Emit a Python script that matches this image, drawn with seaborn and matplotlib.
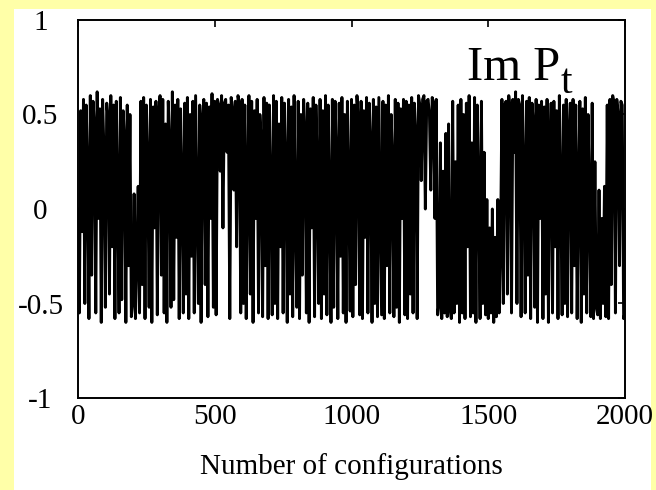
import matplotlib
matplotlib.use("Agg")
import matplotlib.pyplot as plt
from matplotlib.patches import Rectangle
import numpy as np
import pandas as pd
import seaborn as sns

# Monte Carlo history of the imaginary part of the Polyakov loop,
# one value every 5 configurations (0 ... 2000).
step = 5
im_p = [
    # 0 - 95
    0.00, -0.55, 0.52, -0.12, 0.58, -0.50, 0.55, 0.20, -0.58, 0.60,
    -0.35, 0.57, 0.45, -0.55, 0.62, -0.05, 0.53, -0.60, 0.58, 0.30,
    # 100 - 195
    -0.52, 0.56, 0.48, -0.45, 0.60, -0.20, 0.55, -0.58, 0.57, 0.10,
    -0.55, 0.59, -0.48, 0.52, 0.38, -0.60, 0.55, -0.30, 0.50, -0.57,
    # 200 - 295
    -0.50, 0.08, -0.58, -0.25, 0.12, -0.55, 0.57, -0.40, 0.59, -0.58,
    0.55, 0.25, -0.52, 0.58, -0.60, 0.54, -0.10, 0.57, -0.56, 0.50,
    # 300 - 395
    0.60, -0.35, 0.58, -0.55, 0.45, -0.60, 0.57, 0.35, -0.52, 0.62,
    -0.48, 0.55, -0.15, 0.58, -0.58, 0.53, 0.15, -0.55, 0.56, -0.45,
    # 400 - 495
    0.59, -0.58, 0.50, -0.25, 0.57, -0.55, 0.60, 0.05, -0.50, 0.55,
    -0.60, 0.48, 0.58, -0.40, 0.56, -0.57, 0.54, -0.05, 0.61, -0.52,
    # 500 - 595
    0.57, -0.56, 0.58, 0.55, 0.20, 0.60, -0.10, 0.56, 0.58, 0.30,
    0.55, -0.58, 0.59, 0.52, 0.10, 0.57, -0.20, 0.60, 0.55, -0.55,
    # 600 - 695
    0.58, -0.50, 0.55, -0.58, 0.20, 0.60, -0.45, 0.57, -0.60, 0.52,
    -0.05, 0.58, -0.55, 0.50, 0.35, -0.57, 0.59, -0.30, 0.56, -0.58,
    # 700 - 795
    0.55, 0.10, -0.56, 0.60, -0.50, 0.57, -0.58, 0.45, -0.20, 0.59,
    -0.55, 0.56, 0.25, -0.60, 0.58, -0.45, 0.54, -0.57, 0.60, 0.00,
    # 800 - 895
    -0.52, 0.57, -0.58, 0.50, -0.35, 0.58, 0.40, -0.55, 0.56, -0.60,
    0.53, -0.10, 0.59, -0.57, 0.55, 0.20, -0.50, 0.58, -0.58, 0.52,
    # 900 - 995
    -0.45, 0.60, -0.56, 0.55, 0.05, -0.60, 0.58, -0.52, 0.57, 0.30,
    -0.58, 0.56, -0.25, 0.59, -0.55, 0.50, -0.60, 0.57, 0.15, -0.54,
    # 1000 - 1095
    0.58, -0.57, 0.55, -0.40, 0.60, 0.45, -0.56, 0.57, -0.58, 0.52,
    -0.15, 0.59, -0.55, 0.56, 0.35, -0.60, 0.58, -0.50, 0.54, -0.57,
    # 1100 - 1195
    0.59, 0.00, -0.56, 0.57, -0.58, 0.55, -0.30, 0.60, -0.55, 0.50,
    0.25, -0.57, 0.58, -0.52, 0.56, -0.60, 0.53, -0.05, 0.58, -0.56,
    # 1200 - 1295
    0.57, -0.58, 0.55, -0.45, 0.59, -0.55, 0.56, 0.40, -0.58, 0.60,
    0.55, 0.15, 0.58, 0.60, 0.00, 0.57, 0.58, 0.50, 0.10, 0.59,
    # 1300 - 1395
    0.56, -0.05, 0.58, -0.56, -0.50, 0.35, -0.58, 0.20, -0.55, 0.40,
    -0.57, 0.45, -0.52, -0.58, 0.57, -0.55, 0.25, -0.50, 0.55, -0.60,
    # 1400 - 1495
    0.58, -0.55, 0.50, -0.58, 0.56, -0.20, 0.60, -0.57, 0.35, -0.55,
    0.59, -0.60, 0.55, 0.10, -0.58, 0.57, -0.50, 0.30, -0.56, 0.05,
    # 1500 - 1595
    -0.58, -0.10, -0.55, 0.00, -0.60, -0.15, -0.57, 0.05, -0.55, -0.20,
    0.58, -0.50, 0.55, 0.57, -0.45, 0.60, 0.52, -0.55, 0.58, 0.30,
    # 1600 - 1695
    0.62, -0.50, 0.58, 0.55, -0.57, 0.60, 0.20, -0.55, 0.57, -0.35,
    0.59, -0.58, 0.56, 0.45, -0.52, 0.58, -0.60, 0.55, -0.05, 0.57,
    # 1700 - 1795
    -0.58, 0.54, -0.45, 0.58, -0.60, 0.30, 0.56, -0.55, 0.57, -0.20,
    0.52, -0.58, 0.60, 0.10, -0.56, 0.55, -0.50, 0.58, -0.57, 0.40,
    # 1800 - 1895
    0.56, -0.55, 0.58, -0.30, 0.55, -0.58, 0.15, 0.57, -0.60, 0.53,
    -0.45, 0.59, -0.55, 0.50, 0.05, -0.57, 0.56, -0.58, 0.25, -0.52,
    # 1900 - 2000
    -0.56, 0.10, -0.58, -0.05, -0.50, 0.12, -0.57, 0.55, -0.58, 0.58,
    -0.40, 0.60, 0.56, -0.55, 0.58, 0.50, -0.30, 0.57, 0.55, -0.58,
    -0.55,
]
configs = [i * step for i in range(len(im_p))]

x_ticks = [0, 500, 1000, 1500, 2000]
x_tick_labels = ["0", "500", "1000", "1500", "2000"]
y_ticks = [-1, -0.5, 0, 0.5, 1]
y_tick_labels = ["-1", "-0.5", "0", "0.5", "1"]

df = pd.DataFrame({"config": configs, "im_p": im_p})

sns.set_style("white")
plt.rcParams["font.family"] = ["Liberation Serif", "DejaVu Serif"]
plt.rcParams.update({"text.color": "black", "axes.labelcolor": "black",
                     "xtick.color": "black", "ytick.color": "black"})

W, H = 656, 490
fig = plt.figure(figsize=(W / 100, H / 100), dpi=100)
fig.patch.set_facecolor("#FFFFA8")
# white page area behind the plot
fig.patches.append(Rectangle((14 / W, 0), (651 - 14) / W, 1 - 9 / H,
                             transform=fig.transFigure, facecolor="white",
                             edgecolor="none", zorder=-10))

ax = fig.add_axes([78 / W, 1 - 398 / H, (625 - 78) / W, (398 - 20) / H])
ax.set_zorder(5)
ax.set_facecolor("white")

sns.lineplot(data=df, x="config", y="im_p", ax=ax, color="black",
             linewidth=2.1, estimator=None, sort=False)

ax.set_xlim(0, 2000)
ax.set_ylim(-1, 1)
ax.set_xticks(x_ticks)
ax.set_xticklabels(x_tick_labels)
ax.set_yticks(y_ticks)
ax.set_yticklabels(y_tick_labels)
ax.tick_params(direction="in", length=5, width=1.2, color="black",
               labelcolor="black", top=True, right=True, labelsize=21)
ax.tick_params(axis="x", pad=4)
ax.tick_params(axis="y", pad=27)
for lab in ax.get_yticklabels():
    lab.set_horizontalalignment("center")
for s in ax.spines.values():
    s.set_color("black")
    s.set_linewidth(1.4)
    s.set_visible(True)

ax.set_xlabel("Number of configurations", fontsize=21, labelpad=17,
              color="black")
ax.set_ylabel("")

# series label in the upper right corner
fig.text(467 / W, 1 - 80 / H, "Im P", fontsize=35, ha="left", va="baseline",
         color="black", zorder=10)
fig.text(561 / W, 1 - 93 / H, "t", fontsize=30, ha="left", va="baseline",
         color="black", zorder=10)

fig.savefig("out.png", dpi=100, facecolor=fig.get_facecolor())
